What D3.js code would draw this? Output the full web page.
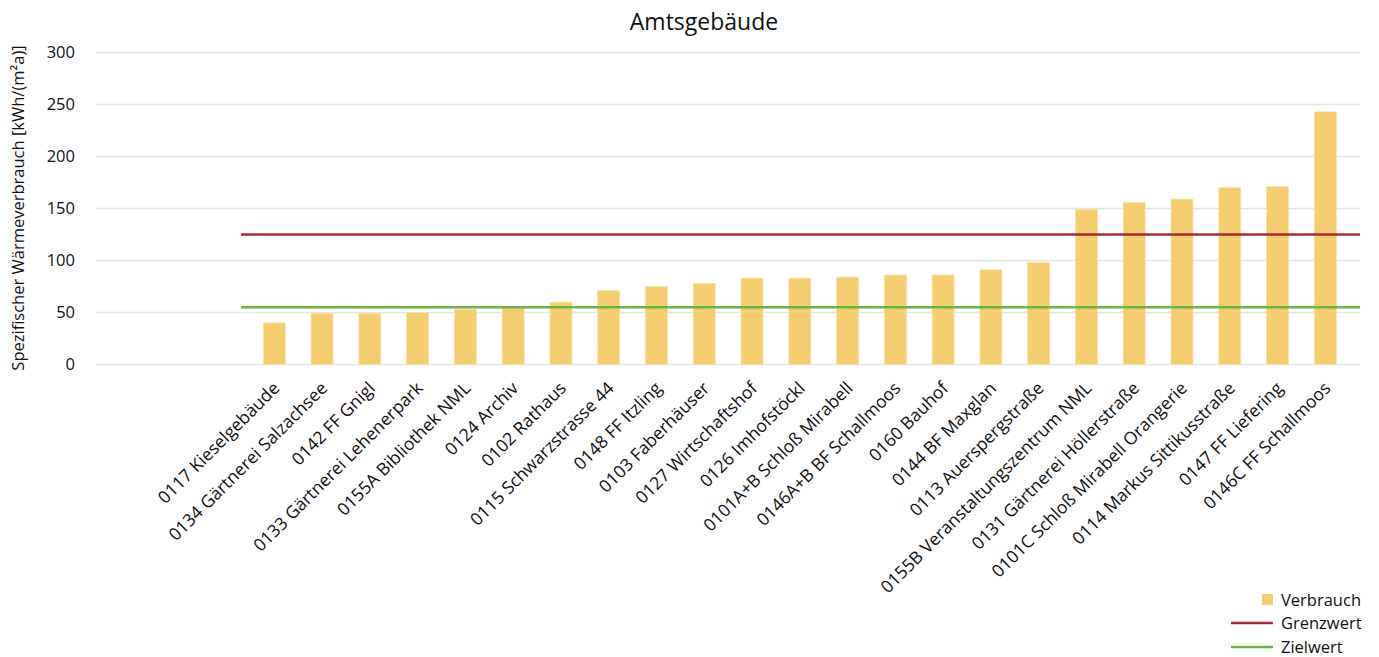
<!DOCTYPE html>
<html>
<head>
<meta charset="utf-8">
<title>Amtsgebäude</title>
<script src="https://cdn.jsdelivr.net/npm/d3@7"></script>
<style>
  html, body { margin: 0; background: #fff; }
  svg text { font-family: "Open Sans", "Liberation Sans", sans-serif; fill: #111; }
</style>
</head>
<body>
<svg id="chart" width="1379" height="657"></svg>
<script>
// data
var gebaeude = ["0117 Kieselgebäude", "0134 Gärtnerei Salzachsee", "0142 FF Gnigl",
  "0133 Gärtnerei Lehenerpark", "0155A Bibliothek NML", "0124 Archiv", "0102 Rathaus",
  "0115 Schwarzstrasse 44", "0148 FF Itzling", "0103 Faberhäuser", "0127 Wirtschaftshof",
  "0126 Imhofstöckl", "0101A+B Schloß Mirabell", "0146A+B BF Schallmoos", "0160 Bauhof",
  "0144 BF Maxglan", "0113 Auerspergstraße", "0155B Veranstaltungszentrum NML",
  "0131 Gärtnerei Höllerstraße", "0101C Schloß Mirabell Orangerie", "0114 Markus Sittikusstraße",
  "0147 FF Liefering", "0146C FF Schallmoos"];
var verbrauch = [40, 49, 49, 50, 53, 55, 60, 71, 75, 78, 83, 83, 84, 86, 86, 91, 98, 149, 156, 159, 170, 171, 243];
var grenzwert = 125;
var zielwert = 55;
var yTicks = [0, 50, 100, 150, 200, 250, 300];

var svg = d3.select("#chart");

var y = d3.scaleLinear().domain([0, 300]).range([364.5, 52.5]);
var x = d3.scaleBand().domain(gebaeude).range([250.4, 1349.2])
  .paddingInner(0.54).paddingOuter(0.27);

// grid
svg.append("g").selectAll("line").data(yTicks).enter().append("line")
  .attr("x1", 96).attr("x2", 1360)
  .attr("y1", function(d){ return y(d); }).attr("y2", function(d){ return y(d); })
  .attr("stroke", "#e3e3e3").attr("stroke-width", 1.3);

// y axis labels
svg.append("g").selectAll("text").data(yTicks).enter().append("text")
  .attr("x", 75).attr("y", function(d){ return y(d); })
  .attr("dy", "0.35em").attr("text-anchor", "end")
  .style("font-size", "16.5px").text(function(d){ return d; });

// bars
svg.append("g").selectAll("rect").data(verbrauch).enter().append("rect")
  .attr("x", function(d, i){ return x(gebaeude[i]); })
  .attr("width", x.bandwidth())
  .attr("y", function(d){ return y(d); })
  .attr("height", function(d){ return y(0) - y(d); })
  .attr("fill", "#f3cd6f").attr("stroke", "#f8e2aa").attr("stroke-width", 0.8);

// reference lines
svg.append("line").attr("x1", 241).attr("x2", 1360)
  .attr("y1", y(grenzwert)).attr("y2", y(grenzwert))
  .attr("stroke", "#a62a36").attr("stroke-width", 2.5);
svg.append("line").attr("x1", 241).attr("x2", 1360)
  .attr("y1", y(zielwert)).attr("y2", y(zielwert))
  .attr("stroke", "#6db244").attr("stroke-width", 2.5);

// category labels
svg.append("g").selectAll("text").data(gebaeude).enter().append("text")
  .attr("transform", function(d){
    var cx = x(d) + x.bandwidth() / 2 + 2;
    return "translate(" + cx + ",385) rotate(-45)";
  })
  .attr("text-anchor", "end").attr("dy", "0.35em")
  .style("font-size", "17.5px").text(function(d){ return d; });

// title
svg.append("text").attr("x", 704).attr("y", 30).attr("text-anchor", "middle")
  .style("font-size", "23px").text("Amtsgebäude");

// y axis title
svg.append("text").attr("transform", "translate(24,208) rotate(-90)")
  .attr("text-anchor", "middle").style("font-size", "16.5px")
  .text("Spezifischer Wärmeverbrauch [kWh/(m²a)]");

// legend
var lg = svg.append("g");
lg.append("rect").attr("x", 1262).attr("y", 594).attr("width", 11).attr("height", 11).attr("fill", "#f3cd6f");
lg.append("text").attr("x", 1281).attr("y", 600).attr("dy", "0.35em").style("font-size", "16.5px").text("Verbrauch");
lg.append("line").attr("x1", 1231).attr("x2", 1273).attr("y1", 623).attr("y2", 623)
  .attr("stroke", "#a62a36").attr("stroke-width", 2.5);
lg.append("text").attr("x", 1281).attr("y", 623).attr("dy", "0.35em").style("font-size", "16.5px").text("Grenzwert");
lg.append("line").attr("x1", 1231).attr("x2", 1273).attr("y1", 647).attr("y2", 647)
  .attr("stroke", "#6db244").attr("stroke-width", 2.5);
lg.append("text").attr("x", 1281).attr("y", 647).attr("dy", "0.35em").style("font-size", "16.5px").text("Zielwert");
</script>
</body>
</html>
